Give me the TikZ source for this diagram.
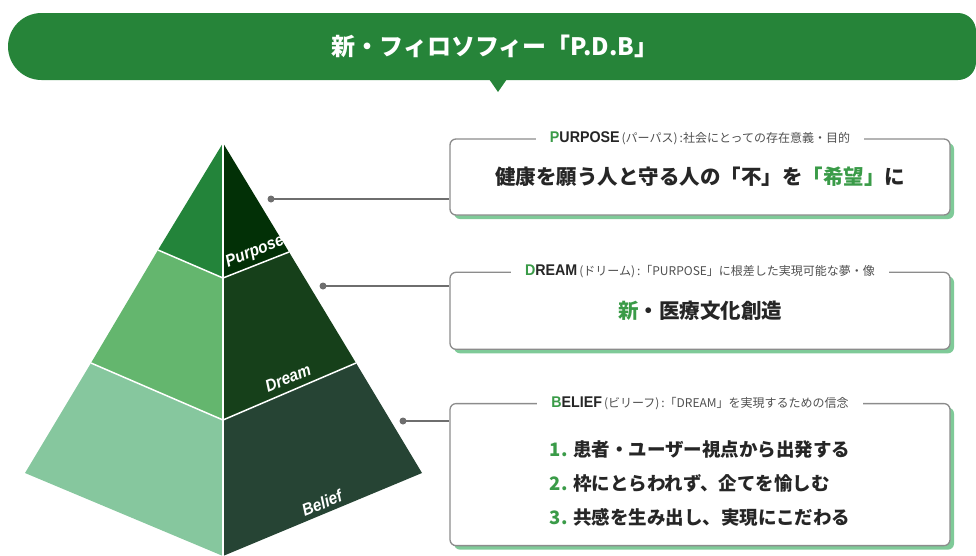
\documentclass[tikz,border=0pt]{standalone}
\usepackage{fontspec}
\setmainfont{Noto Sans CJK JP}
\newfontfamily\condfont[FakeStretch=0.92]{Liberation Sans}
\newfontfamily\tagfont[FakeStretch=0.9]{Liberation Sans Bold Italic}
\usepackage{tikz}
\usetikzlibrary{positioning,shadows}
\usepackage{xcolor}

\definecolor{bannergreen}{RGB}{38,132,57}
\definecolor{keygreen}{RGB}{58,155,72}
\definecolor{shadowgreen}{RGB}{127,202,152}
\definecolor{boxgray}{RGB}{140,140,140}
\definecolor{textdark}{RGB}{38,38,38}
\definecolor{headgray}{RGB}{80,80,80}
\definecolor{linkgray}{RGB}{110,110,110}
\definecolor{purposeL}{RGB}{35,132,58}
\definecolor{purposeR}{RGB}{2,48,6}
\definecolor{dreamL}{RGB}{100,182,110}
\definecolor{dreamR}{RGB}{22,64,26}
\definecolor{beliefL}{RGB}{134,199,158}
\definecolor{beliefR}{RGB}{38,68,52}

\newcommand{\keyword}[2]{{\condfont\bfseries\fontsize{15.5}{16}\selectfont\textcolor{keygreen}{#1}\textcolor{textdark}{#2}}}

\begin{document}
\begin{tikzpicture}[x=1pt,y=-1pt,
banner/.style={text=white,font=\bfseries\fontsize{24}{26}\selectfont},
msgbox/.style={rectangle,draw=boxgray,line width=1.3pt,rounded corners=6pt,fill=white,minimum width=500pt,
  drop shadow={shadow xshift=4pt,shadow yshift=-4pt,fill=shadowgreen,opacity=1},
  text=textdark,font=\bfseries\fontsize{20.5}{22}\selectfont},
head/.style={fill=white,inner xsep=14pt,inner ysep=1pt,text=headgray,font=\fontsize{12}{13}\selectfont},
itemlist/.style={align=left,text=textdark,font=\bfseries\fontsize{18.5}{34}\selectfont},
facelabel/.style={text=white,inner sep=0pt,font=\tagfont\fontsize{17}{17}\selectfont},
seam/.style={white,line width=1.5pt},
dot/.style={circle,fill=linkgray,inner sep=0pt,minimum size=7pt},
link/.style={linkgray,line width=1.6pt},
]
\useasboundingbox (0,0) rectangle (976,555);

% title banner
\fill [bannergreen,rounded corners=33.5pt] (200,13) -- (8,13) -- (8,80) -- (200,80)
  [rounded corners=18pt] -- (976,80) -- (976,13) -- cycle;
\fill [bannergreen] (489,79) -- (498,92) -- (507,79) -- cycle;
\node [banner] (Title) at (495,46) {新・フィロソフィー「P.D.B」};

% pyramid
\coordinate (Apex) at (223,143);
\coordinate (PL) at (158,250);
\coordinate (PC) at (223,278);
\coordinate (PR) at (289,252);
\coordinate (DL) at (91,363);
\coordinate (DC) at (223,420);
\coordinate (DR) at (356,363);
\coordinate (BL) at (25,473);
\coordinate (BC) at (223,556);
\coordinate (BR) at (422,473);

\fill [purposeL] (Apex) -- (PL) -- (PC) -- cycle;
\fill [purposeR] (Apex) -- (PC) -- (PR) -- cycle;
\fill [dreamL] (PL) -- (DL) -- (DC) -- (PC) -- cycle;
\fill [dreamR] (PC) -- (DC) -- (DR) -- (PR) -- cycle;
\fill [beliefL] (DL) -- (BL) -- (BC) -- (DC) -- cycle;
\fill [beliefR] (DC) -- (BC) -- (BR) -- (DR) -- cycle;

\draw [seam] (Apex) -- (BC);
\draw [seam] (PL) -- (PC) -- (PR);
\draw [seam] (DL) -- (DC) -- (DR);

\node [facelabel,rotate=22] (PurposeTag) at (255,252) {Purpose};
\node [facelabel,rotate=22] (DreamTag) at (288,378) {Dream};
\node [facelabel,rotate=22] (BeliefTag) at (322,503) {Belief};

% boxes
\node [msgbox,minimum height=76pt] (PurposeBox) at (700,177)
  {健康を願う人と守る人の「不」を\textcolor{keygreen}{「希望」}に};
\node [msgbox,minimum height=77pt] (DreamBox) [below=56pt of PurposeBox]
  {\textcolor{keygreen}{新}・医療文化創造};
\node [msgbox,minimum height=142pt] (BeliefBox) [below=53pt of DreamBox] {};

\node [itemlist] (BeliefText) at ([yshift=-9pt]BeliefBox.center)
  {\textcolor{keygreen}{1.} 患者・ユーザー視点から出発する\\
   \textcolor{keygreen}{2.} 枠にとらわれず、企てを愉しむ\\
   \textcolor{keygreen}{3.} 共感を生み出し、実現にこだわる};

\node [head] (PurposeHead) at (PurposeBox.north) {\keyword{P}{URPOSE}\,(パーパス)\,:社会にとっての存在意義・目的};
\node [head] (DreamHead) at (DreamBox.north) {\keyword{D}{REAM}\,(ドリーム)\,:「PURPOSE」に根差した実現可能な夢・像};
\node [head] (BeliefHead) at (BeliefBox.north) {\keyword{B}{ELIEF}\,(ビリーフ)\,:「DREAM」を実現するための信念};

% connectors
\node [dot] (PurposeDot) at (271,199) {};
\node [dot] (DreamDot) at (323,286) {};
\node [dot] (BeliefDot) at (403,421) {};

\draw [link] (PurposeDot.center) -- (PurposeDot -| PurposeBox.west);
\draw [link] (DreamDot.center) -- (DreamDot -| DreamBox.west);
\draw [link] (BeliefDot.center) -- (BeliefDot -| BeliefBox.west);

\end{tikzpicture}
\end{document}
